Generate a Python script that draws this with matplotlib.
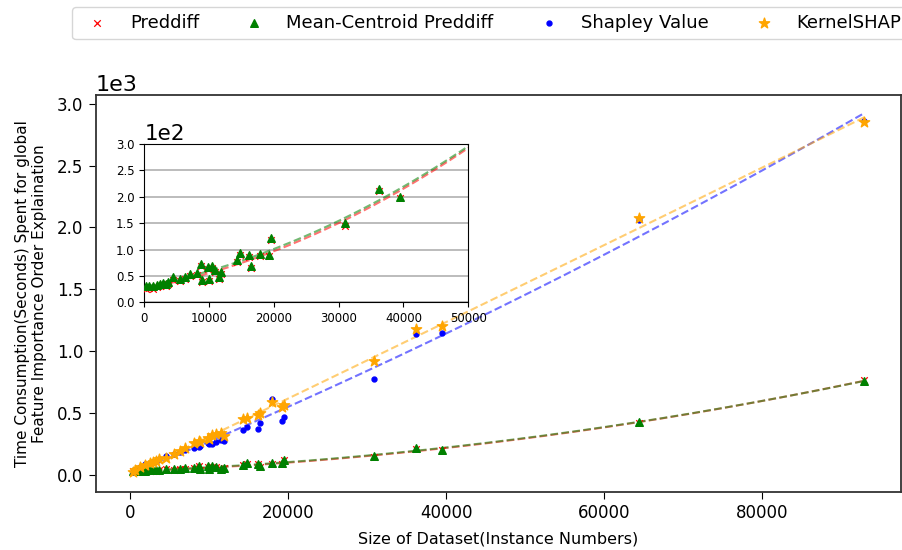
import numpy as np
import matplotlib
matplotlib.use("Agg")
import matplotlib.pyplot as plt

# dataset sizes (instance numbers)
sizes = [300, 650, 1300, 1900, 2500, 2900, 3300, 3700, 4500, 5500, 6300, 7000,
         8100, 8700, 8900, 9900, 10000, 10400, 10900, 11500, 11900, 14300, 14800,
         16200, 16500, 17900, 19200, 19500, 30900, 36200, 39500, 64500, 93000]

# time consumption (seconds)
mean_centroid = [30, 31, 30, 33, 35, 36, 35, 39, 47, 44, 48, 53,
                 56, 72, 42, 67, 44, 69, 62, 48, 57, 80, 93,
                 89, 69, 92, 90, 121, 150, 215, 200, 424, 760]
preddiff = [26, 27, 26, 29, 31, 32, 31, 35, 43, 40, 44, 49,
            52, 68, 38, 63, 40, 65, 58, 44, 53, 76, 89,
            85, 65, 88, 87, 118, 145, 210, 197, 420, 762]
shapley = [20, 35, 60, 84, 95, 105, 110, 125, 150, 165, 180, 195,
           215, 221, 230, 254, 250, 249, 260, 280, 268, 362, 389,
           370, 420, 611, 435, 462, 773, 1138, 1143, 2060, 2860]
kernelshap = [24, 40, 60, 80, 95, 105, 110, 130, 138, 170, 187, 213,
              254, 268, 260, 300, 290, 322, 330, 335, 310, 450, 457,
              480, 497, 586, 543, 560, 922, 1178, 1200, 2075, 2855]

labels = ["Preddiff", "Mean-Centroid Preddiff", "Shapley Value", "KernelSHAP"]

fig = plt.figure(figsize=(9.03, 5.5), dpi=100)
ax = fig.add_axes([0.1063, 0.106, 0.8915, 0.7213])

x = np.array(sizes, dtype=float)
xs = np.linspace(x.min(), x.max(), 200)

series = [
    (preddiff, "x", "red", 22, "red"),
    (mean_centroid, "^", "green", 30, "green"),
    (shapley, ".", "blue", 50, "blue"),
    (kernelshap, "*", "orange", 60, "orange"),
]

handles = []
for (vals, mk, col, s, lc), lab in zip(series, labels):
    kw = {"linewidths": 0.9} if mk == "x" else {}
    h = ax.scatter(x, vals, marker=mk, color=col, s=s, label=lab, zorder=3, **kw)
    handles.append(h)
    coef = np.polyfit(x, np.array(vals, dtype=float), 2)
    ax.plot(xs, np.polyval(coef, xs), linestyle="--", color=lc, alpha=0.55, lw=1.5, zorder=2)

ax.ticklabel_format(style="sci", axis="y", scilimits=(0, 0))
ax.tick_params(labelsize=12, length=5, pad=4)
ax.yaxis.get_offset_text().set_fontsize(16)
ax.set_xlabel("Size of Dataset(Instance Numbers)", fontsize=11.5, labelpad=7)
ax.set_ylabel("Time Consumption(Seconds) Spent for global\nFeature Importance Order Explaination",
              fontsize=11, labelpad=7)
for sp in ax.spines.values():
    sp.set_color("#333333")
    sp.set_linewidth(1.3)

# inset
ax2 = fig.add_axes([0.1598, 0.4504, 0.3588, 0.2878])
for (vals, mk, col, s, lc), lab in zip(series[:2], labels[:2]):
    kw = {"linewidths": 0.9} if mk == "x" else {}
    ax2.scatter(x, vals, marker=mk, color=col, s=s, zorder=3, **kw)
    coef = np.polyfit(x, np.array(vals, dtype=float), 2)
    ax2.plot(xs, np.polyval(coef, xs), linestyle="--", color=lc, alpha=0.55, lw=1.5, zorder=2)
ax2.set_xlim(0, 50000)
ax2.set_ylim(0, 300)
ax2.set_xticks([0, 10000, 20000, 30000, 40000, 50000])
ax2.set_yticks([0, 50, 100, 150, 200, 250, 300])
ax2.ticklabel_format(style="sci", axis="y", scilimits=(0, 0))
ax2.tick_params(labelsize=8.5)
ax2.yaxis.get_offset_text().set_fontsize(15.5)
ax2.grid(axis="y", color="#b0b0b0", lw=1.2)
ax2.set_axisbelow(True)

fig.legend(handles=handles, labels=labels, loc="upper left",
           bbox_to_anchor=(72 / 903, 1 - 7 / 550), ncol=4, fontsize=13,
           columnspacing=2.05, borderaxespad=0, frameon=True)

fig.savefig("out.png", dpi=100)
